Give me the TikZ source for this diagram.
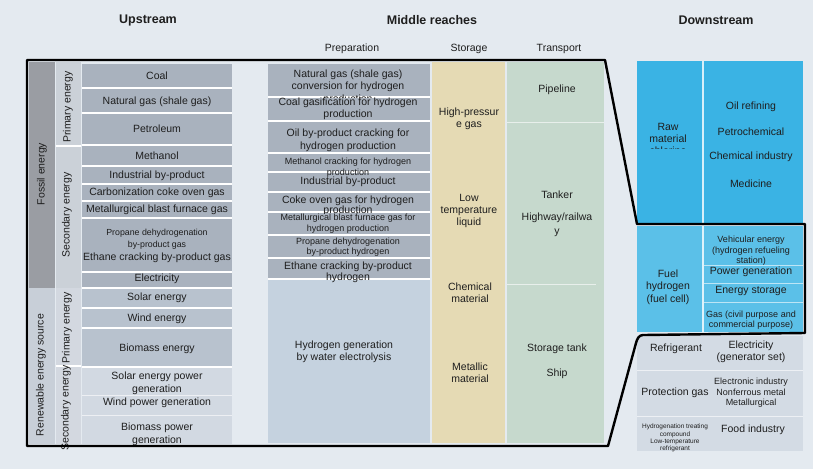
\documentclass[tikz,border=0pt]{standalone}
\usepackage{fontspec}
\setmainfont{Liberation Sans}
\definecolor{bg}{HTML}{E4EAF0}
\definecolor{txtc}{HTML}{1E1E1E}
\definecolor{fossilband}{HTML}{9A9DA3}
\definecolor{renewband}{HTML}{C8CFD8}
\definecolor{primcol}{HTML}{CBD1D8}
\definecolor{item}{HTML}{A9B2BE}
\definecolor{renitem}{HTML}{B8C2CE}
\definecolor{renitemb}{HTML}{D2D9E2}
\definecolor{preplow}{HTML}{C5D2DF}
\definecolor{storagec}{HTML}{E5DAB4}
\definecolor{transportc}{HTML}{C6D9CD}
\definecolor{dsblue}{HTML}{3AB3E4}
\definecolor{fuelblue}{HTML}{5BC0E8}
\definecolor{lowgray}{HTML}{D3DBE4}
\begin{document}
\begin{tikzpicture}[x=1pt,y=-1pt,
  txt/.style={font=\fontsize{10.5}{12.5}\selectfont, align=center, inner sep=0pt, text=txtc},
  sm/.style={font=\fontsize{9}{10.5}\selectfont, align=center, inner sep=0pt, text=txtc},
  tinytxt/.style={font=\fontsize{6.5}{7.3}\selectfont, align=center, inner sep=0pt, text=txtc},
  hdr/.style={font=\fontsize{12.5}{14}\selectfont\bfseries, inner sep=0pt, text=txtc},
  sep/.style={white, line width=1.2pt},
  fsep/.style={white, opacity=0.6, line width=0.8pt},
  outline/.style={line width=2.4pt, black, line join=round}]
\useasboundingbox (0,0) rectangle (813,469);
\fill[bg] (0,0) rectangle (813,469);

% ---------- headers ----------
\node[hdr] (up) at (148,20) {Upstream};
\node[hdr] (mid) at (432,20) {Middle reaches};
\node[hdr] (down) at (716,20) {Downstream};
\node[txt] (prep) at (352,49) {Preparation};
\node[txt] (stor) at (469,49) {Storage};
\node[txt] (trans) at (559,49) {Transport};

% ---------- upstream fills ----------
\fill[fossilband] (29,62) rectangle (55,288);
\fill[renewband] (29,288) rectangle (55,444);
\fill[primcol] (56,62) rectangle (81,288);
\fill[renewband!80!white] (56,288) rectangle (81,444);
\fill[item] (82,64) rectangle (232,288);
\fill[renitem] (82,288) rectangle (232,367);
\fill[renitemb] (82,367) rectangle (232,444);
\draw[sep] (56,146) -- (81,146);
\draw[sep] (56,366) -- (81,366);
\foreach \yy in {88,113,145,166,184,201,218,272,288,308,328,367} \draw[sep] (82,\yy) -- (232,\yy);
\foreach \yy in {395,415} \draw[fsep] (82,\yy) -- (232,\yy);

\node[txt,rotate=90] (fossil) at (42,174) {Fossil energy};
\node[txt,rotate=90] (renew) at (41,375) {Renewable energy source};
\node[txt,rotate=90] (fprim) at (68,107) {Primary energy};
\node[txt,rotate=90] (fsec) at (67,215) {Secondary energy};
\node[txt,rotate=90] (rprim) at (67,328) {Primary energy};
\node[txt,rotate=90] (rsec) at (66,408) {Secondary energy};

\node[txt] (coal) at (157,76) {Coal};
\node[txt] (ngas) at (157,102) {Natural gas (shale gas)};
\node[txt] (petro) at (157,129) {Petroleum};
\node[txt] (meth) at (157,156) {Methanol};
\node[txt] (indbp) at (157,176) {Industrial by-product};
\node[txt] (carb) at (157,193) {Carbonization coke oven gas};
\node[txt] (metal) at (157,210) {Metallurgical blast furnace gas};
\node[sm,font=\fontsize{8.8}{12}\selectfont] (prop) at (157,239) {Propane dehydrogenation\\by-product gas};
\node[txt] (eth) at (157,258) {Ethane cracking by-product gas};
\node[txt] (elec) at (157,279) {Electricity};
\node[txt] (solar) at (157,298) {Solar energy};
\node[txt] (wind) at (157,319) {Wind energy};
\node[txt] (bio) at (157,349) {Biomass energy};
\node[txt,font=\fontsize{10.5}{13}\selectfont] (solarp) at (157,383.5) {Solar energy power\\generation};
\node[txt] (windp) at (157,403) {Wind power generation};
\node[txt,font=\fontsize{10.5}{13}\selectfont] (biop) at (157,434.5) {Biomass power\\generation};

% ---------- middle reaches fills ----------
\fill[item] (268,64) rectangle (430,279);
\fill[preplow] (268,279) rectangle (430,443);
\foreach \yy in {97,121,153,172,192,212,235,258,279} \draw[sep] (268,\yy) -- (430,\yy);
\fill[storagec] (432,62) rectangle (505,443);
\fill[transportc] (507,62) rectangle (604,443);
\draw[fsep] (507,122) -- (604,122);
\draw[fsep] (507,284) -- (596,284);

\begin{scope}
\clip (268,64) rectangle (430,97);
\node[txt] (p1) at (348,87) {Natural gas (shale gas)\\conversion for hydrogen\\production};
\end{scope}
\node[txt,font=\fontsize{10.5}{12}\selectfont] (p2) at (348,109) {Coal gasification for hydrogen\\production};
\node[txt,font=\fontsize{10.5}{13}\selectfont] (p3) at (348,140.5) {Oil by-product cracking for\\hydrogen production};
\node[sm,font=\fontsize{9}{11}\selectfont] (p4) at (348,167.5) {Methanol cracking for hydrogen\\production};
\node[txt] (p5) at (348,182) {Industrial by-product};
\begin{scope}
\clip (268,192) rectangle (430,213.5);
\node[txt,font=\fontsize{10.5}{10.5}\selectfont] (p6) at (348,206) {Coke oven gas for hydrogen\\production};
\end{scope}
\node[sm,font=\fontsize{9}{11}\selectfont] (p7) at (348,224) {Metallurgical blast furnace gas for\\hydrogen production};
\node[sm,font=\fontsize{9}{10.5}\selectfont] (p8) at (348,247) {Propane dehydrogenation\\by-product hydrogen};
\node[txt,font=\fontsize{10.5}{11.5}\selectfont] (p9) at (348,272.5) {Ethane cracking by-product\\hydrogen};
\node[txt,font=\fontsize{10.5}{12}\selectfont] (p10) at (344,352) {Hydrogen generation\\by water electrolysis};

\node[txt] (s1) at (469,119) {High-pressur\\e gas};
\node[txt,font=\fontsize{10.5}{12}\selectfont] (s2) at (469,211) {Low\\temperature\\liquid};
\node[txt,font=\fontsize{10.5}{11.5}\selectfont] (s3) at (470,292.5) {Chemical\\material};
\node[txt] (s4) at (470,372.5) {Metallic\\material};

\node[txt] (t1) at (557,90) {Pipeline};
\node[txt] (t2) at (557,195) {Tanker};
\node[txt,font=\fontsize{10.5}{14}\selectfont] (t3) at (557,225) {Highway/railwa\\y};
\node[txt] (t4) at (557,349) {Storage tank};
\node[txt] (t5) at (557,374) {Ship};

% ---------- downstream ----------
\fill[dsblue] (637,61) rectangle (803,223);
\draw[white, line width=1.2pt, opacity=0.8] (703,61) -- (703,223);
\begin{scope}
\clip (637,61) rectangle (702,148);
\node[txt,font=\fontsize{10.5}{12}\selectfont] (raw) at (668,139) {Raw\\material\\chlorine};
\end{scope}
\node[txt] (d1) at (751,107) {Oil refining};
\node[txt] (d2) at (751,132) {Petrochemical};
\node[txt] (d3) at (751,157) {Chemical industry};
\node[txt] (d4) at (751,184) {Medicine};

\fill[fuelblue] (637,226) rectangle (803,332);
\draw[white, line width=1.2pt, opacity=0.8] (703,226) -- (703,332);
\foreach \yy in {265,283,302} \draw[fsep] (704,\yy) -- (803,\yy);
\node[txt,font=\fontsize{10.5}{12.5}\selectfont] (fuel) at (668,287) {Fuel\\hydrogen\\(fuel cell)};
\node[sm] (f1) at (751,251) {Vehicular energy\\(hydrogen refueling\\station)};
\node[txt] (f2) at (751,272) {Power generation};
\node[txt] (f3) at (751,291) {Energy storage};
\node[sm] (f4) at (751,320) {Gas (civil purpose and\\commercial purpose)};

\fill[lowgray] (637,336) rectangle (803,451);
\foreach \yy in {370,416} \draw[fsep] (637,\yy) -- (803,\yy);
\node[txt] (r1) at (676,349) {Refrigerant};
\node[txt,font=\fontsize{10.5}{12}\selectfont] (r2) at (751,352) {Electricity\\(generator set)};
\node[txt] (r3) at (675,393) {Protection gas};
\node[sm] (r4) at (751,393) {Electronic industry\\Nonferrous metal\\Metallurgical};
\node[tinytxt] (r5) at (675,438) {Hydrogenation treating\\compound\\Low-temperature\\refrigerant};
\node[txt] (r6) at (753,430) {Food industry};

% ---------- main outline ----------
\draw[outline] (27,60) -- (605,60) -- (637,224) -- (805,224) -- (805,333)
  -- (643,335) to[out=180,in=75] (636,343) -- (608,446) -- (27,446) -- cycle;
\end{tikzpicture}
\end{document}
